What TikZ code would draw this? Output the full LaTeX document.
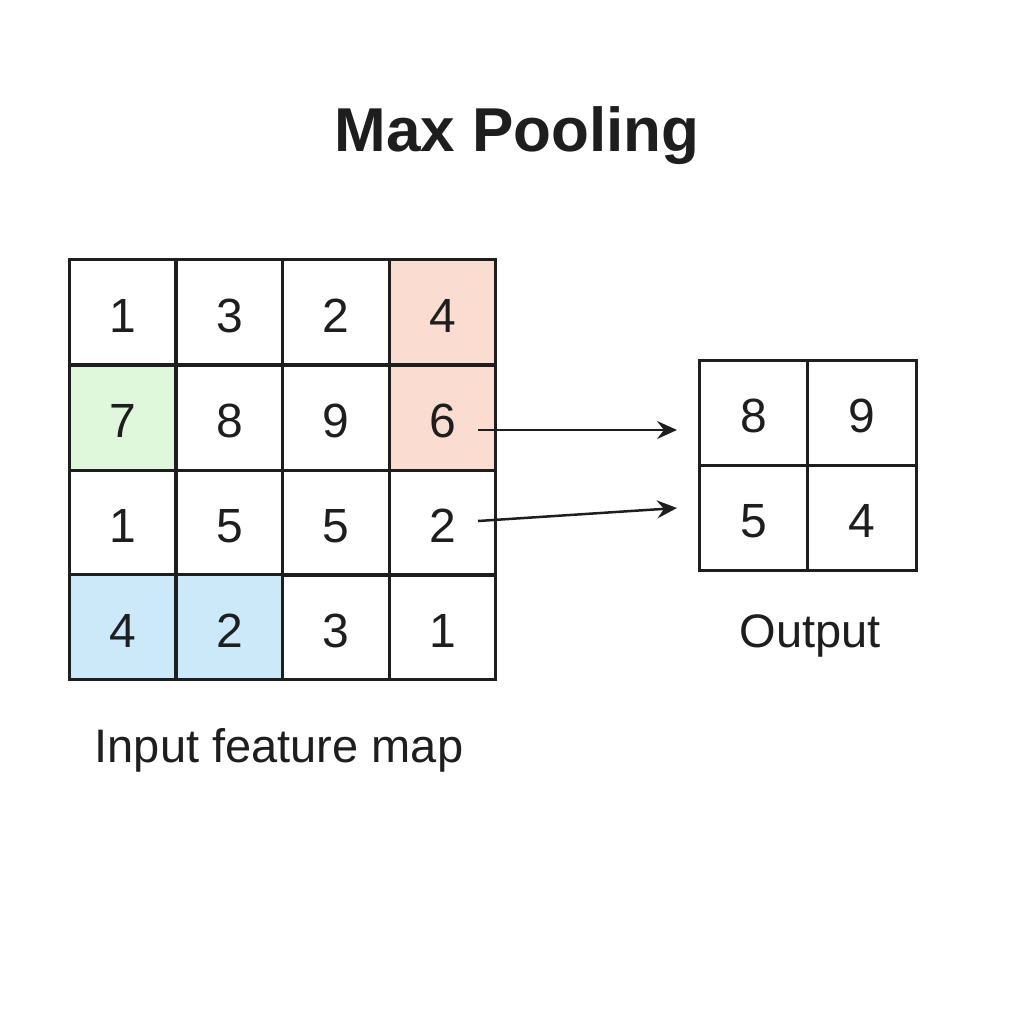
\documentclass[tikz,border=0pt]{standalone}
\usepackage{fontspec}
\setmainfont{Liberation Sans}
\usetikzlibrary{arrows.meta}
\definecolor{ink}{HTML}{1E1E1E}
\definecolor{orangecell}{HTML}{FADDD0}
\definecolor{greencell}{HTML}{DFF8DC}
\definecolor{bluecell}{HTML}{CCE9FA}
\tikzset{
  cell/.style={draw=ink, line width=1.5pt, minimum width=53.375pt, minimum height=52.5pt, inner sep=0pt, font=\fontsize{24}{28}\selectfont, text=ink, text height=20pt, text depth=0pt},
  ocell/.style={draw=ink, line width=1.5pt, minimum width=54.25pt, minimum height=52.5pt, inner sep=0pt, font=\fontsize{24}{28}\selectfont, text=ink, text height=20pt, text depth=0pt},
  lbl/.style={font=\fontsize{23.5}{28}\selectfont, text=ink},
  conn/.style={draw=ink, line width=1.25pt, -{Stealth[length=10pt, width=9pt, inset=3.5pt]}}
}
\begin{document}
\begin{tikzpicture}[x=0.5pt, y=-0.5pt]
\useasboundingbox (0,0) rectangle (1024,1024);
\node[font=\bfseries\fontsize{31}{36}\selectfont, text=ink] (title) at (517,136) {Max Pooling};
% input grid
\node[cell] (a11) at (122.5,312) {1};
\node[cell] (a12) at (229.5,312) {3};
\node[cell] (a13) at (336,312) {2};
\node[cell, fill=orangecell] (a14) at (442.5,312) {4};
\node[cell, fill=greencell] (a21) at (122.5,417.5) {7};
\node[cell] (a22) at (229.5,417.5) {8};
\node[cell] (a23) at (336,417.5) {9};
\node[cell, fill=orangecell] (a24) at (442.5,417.5) {6};
\node[cell] (a31) at (122.5,522.5) {1};
\node[cell] (a32) at (229.5,522.5) {5};
\node[cell] (a33) at (336,522.5) {5};
\node[cell] (a34) at (442.5,522.5) {2};
\node[cell, fill=bluecell] (a41) at (122.5,627) {4};
\node[cell, fill=bluecell] (a42) at (229.5,627) {2};
\node[cell] (a43) at (336,627) {3};
\node[cell] (a44) at (442.5,627) {1};
% output grid
\node[ocell] (o11) at (753.5,412.5) {8};
\node[ocell] (o12) at (862,412.5) {9};
\node[ocell] (o21) at (753.5,517.5) {5};
\node[ocell] (o22) at (862,517.5) {4};
% labels
\node[lbl] (inlbl) at (279,750) {Input feature map};
\node[lbl] (outlbl) at (810,636) {Output};
% arrows
\coordinate (s1) at (478,430);
\coordinate (e1) at (677,430);
\coordinate (s2) at (478,521);
\coordinate (e2) at (677,508);
\draw[conn] (s1) -- (e1);
\draw[conn] (s2) -- (e2);
\end{tikzpicture}
\end{document}
